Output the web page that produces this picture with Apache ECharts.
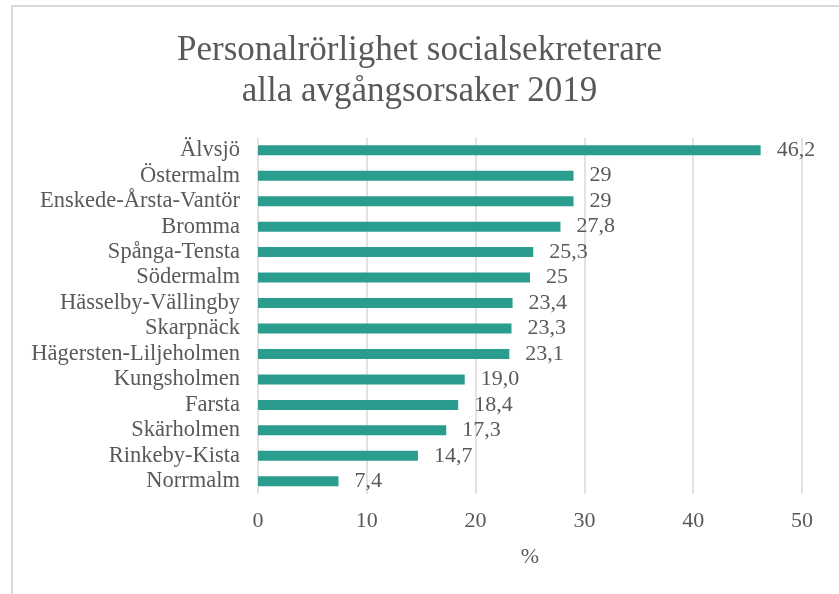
<!DOCTYPE html>
<html>
<head>
<meta charset="utf-8">
<script src="https://cdn.jsdelivr.net/npm/echarts@6/dist/echarts.min.js"></script>
<style>
html,body{margin:0;padding:0;background:#fff;}
#main{width:839px;height:594px;}
</style>
</head>
<body>
<div id="main"></div>
<script>
var categories = ["Älvsjö","Östermalm","Enskede-Årsta-Vantör","Bromma","Spånga-Tensta","Södermalm","Hässelby-Vällingby","Skarpnäck","Hägersten-Liljeholmen","Kungsholmen","Farsta","Skärholmen","Rinkeby-Kista","Norrmalm"];
var values = [46.2, 29, 29, 27.8, 25.3, 25, 23.4, 23.3, 23.1, 19.0, 18.4, 17.3, 14.7, 7.4];
var valueLabels = ["46,2","29","29","27,8","25,3","25","23,4","23,3","23,1","19,0","18,4","17,3","14,7","7,4"];
var titleText = "Personalrörlighet socialsekreterare\nalla avgångsorsaker 2019";
var axisName = "%";

var FONT = '"Liberation Serif", "Times New Roman", serif';
var TEXT = '#595959';
var chart = echarts.init(document.getElementById('main'), null, {renderer:'canvas'});
chart.setOption({
  animation: false,
  backgroundColor: '#fff',
  graphic: [{
    type: 'rect', silent: true,
    shape: {x: 12, y: 6, width: 900, height: 700},
    style: {fill: 'none', stroke: '#d9d9d9', lineWidth: 2}
  }],
  title: {
    text: titleText,
    left: 'center',
    top: 25,
    textStyle: {fontFamily: FONT, fontSize: 35, fontWeight: 'normal', color: TEXT, lineHeight: 41, align: 'center'}
  },
  grid: {left: 258, right: 37, top: 137.5, bottom: 100},
  xAxis: {
    type: 'value', min: 0, max: 50, interval: 10,
    name: axisName, nameLocation: 'middle', nameGap: 52,
    nameTextStyle: {fontFamily: FONT, fontSize: 22, color: TEXT},
    axisLine: {show: false}, axisTick: {show: false},
    axisLabel: {fontFamily: FONT, fontSize: 22, color: TEXT, margin: 16},
    splitLine: {show: true, lineStyle: {color: '#d9d9d9', width: 1.5}}
  },
  yAxis: {
    type: 'category', data: categories, inverse: true,
    axisLine: {show: false}, axisTick: {show: false},
    axisLabel: {fontFamily: FONT, fontSize: 22.5, color: TEXT, margin: 18, interval: 0}
  },
  series: [{
    type: 'bar', data: values, barWidth: 10,
    itemStyle: {color: '#2a9d8f'},
    label: {
      show: true, position: 'right', distance: 16,
      fontFamily: FONT, fontSize: 22, color: TEXT,
      formatter: function(p){ return valueLabels[p.dataIndex]; }
    }
  }]
});
</script>
</body>
</html>
